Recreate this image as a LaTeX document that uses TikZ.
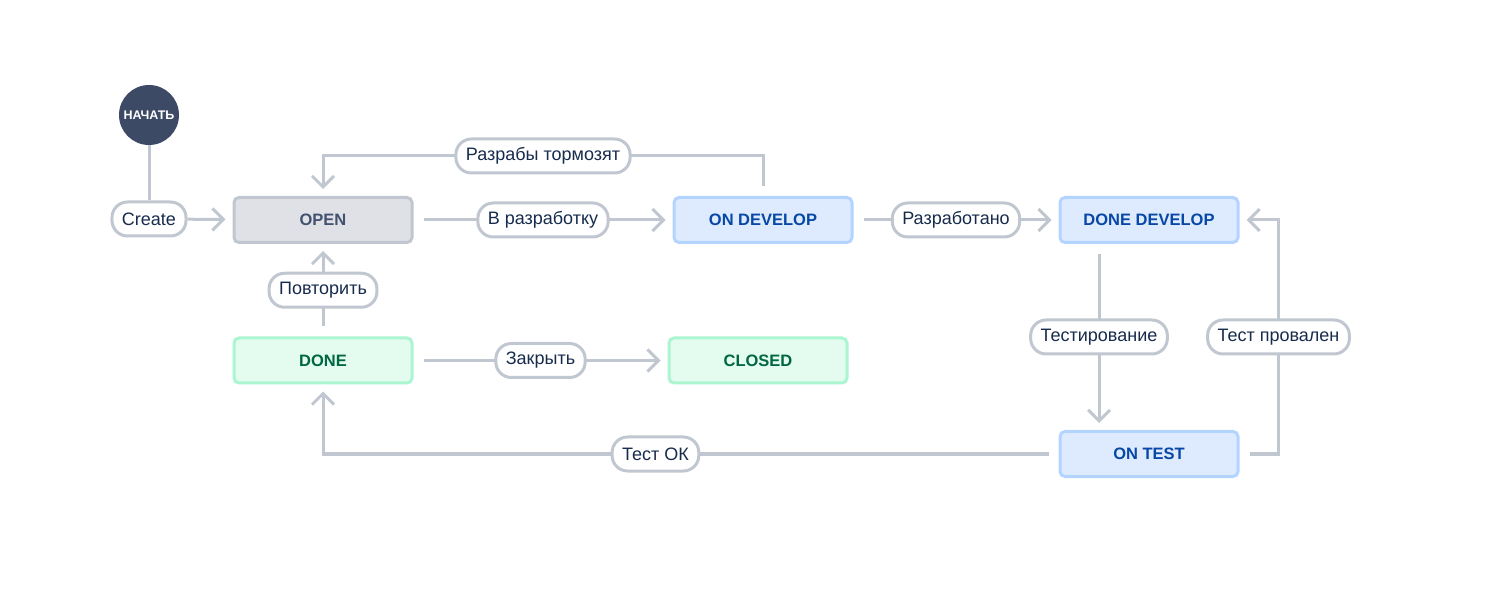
\documentclass[tikz,border=0pt]{standalone}
\usepackage{fontspec}
\setmainfont{Liberation Sans}
\usetikzlibrary{arrows.meta}
\definecolor{lnc}{HTML}{C1C7D0}
\definecolor{startc}{HTML}{3D4A66}
\definecolor{grayfill}{HTML}{DFE1E6}
\definecolor{graytext}{HTML}{42526E}
\definecolor{bluefill}{HTML}{DEEBFF}
\definecolor{blueline}{HTML}{B3D4FF}
\definecolor{bluetext}{HTML}{0747A6}
\definecolor{greenfill}{HTML}{E3FCEF}
\definecolor{greenline}{HTML}{ABF5D1}
\definecolor{greentext}{HTML}{006644}
\definecolor{lbltext}{HTML}{172B4D}
\tikzset{
  x=1pt, y=-1pt,
  statebox/.style={draw, line width=3pt, rounded corners=5pt, minimum width=178pt, minimum height=45pt,
    font=\fontsize{16.5}{19}\selectfont\bfseries, inner sep=0pt},
  graystate/.style={statebox, fill=grayfill, draw=lnc, text=graytext},
  bluestate/.style={statebox, fill=bluefill, draw=blueline, text=bluetext},
  greenstate/.style={statebox, fill=greenfill, draw=greenline, text=greentext},
  pill/.style={draw=lnc, fill=white, line width=3pt, rounded corners=15.5pt, minimum height=34pt,
    inner xsep=10pt, inner ysep=0pt, font=\fontsize{18}{21}\selectfont, text=lbltext},
  conn/.style={draw=lnc, line width=3pt},
  arr/.style={conn, -{Straight Barb[length=11pt, width=22pt, line width=3pt]}, shorten >=7pt, shorten <=10pt},
}
\begin{document}
\begin{tikzpicture}
\useasboundingbox (0,0) rectangle (1497,601);
% states
\node[circle, fill=startc, minimum size=60pt, inner sep=0pt, text=white,
  font=\fontsize{12.5}{14}\selectfont\bfseries] (start) at (149,115) {НАЧАТЬ};
\node[graystate] (open) at (323,220) {OPEN};
\node[bluestate] (ondev) at (763,220) {ON DEVELOP};
\node[bluestate] (donedev) at (1149,220) {DONE DEVELOP};
\node[greenstate] (done) at (323,360.5) {DONE};
\node[greenstate] (closed) at (758,360.5) {CLOSED};
\node[bluestate] (ontest) at (1149,454) {ON TEST};
% create label
\node[pill] (create) at (149,219) {Create};
% connectors
\draw[conn] (start) -- (create);
\draw[arr, shorten <=0pt] (create) -- (open);
\draw[arr] (open) -- node[pill] (l1) {В разработку} (ondev);
\draw[arr] (ondev.north) -- ++(0,-40) -| node[pill, pos=0.25] (l2) {Разрабы тормозят} (open.north);
\draw[arr] (ondev) -- node[pill] (l3) {Разработано} (donedev);
\draw[arr] ([xshift=-50pt]donedev.south) -- node[pill] (l4) {Тестирование} ([xshift=-50pt]ontest.north);
\draw[arr] (ontest.east) -- ++(39,0) |- node[pill, pos=0.25] (l5) {Тест провален} (donedev.east);
\draw[arr] (ontest.west) -| node[pill, pos=0.274] (l6) {Тест ОК} (done.south);
\draw[arr] (done) -- node[pill] (l7) {Повторить} (open);
\draw[arr] (done) -- node[pill] (l8) {Закрыть} (closed);
\end{tikzpicture}
\end{document}
